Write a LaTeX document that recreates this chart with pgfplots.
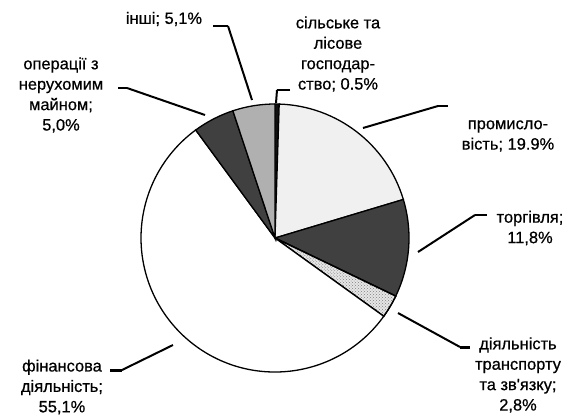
\documentclass[border=0pt]{standalone}
\usepackage{pgfplots}
\pgfplotsset{compat=1.18}
\usepackage{fontspec}
\setmainfont{Liberation Sans}
\newfontfamily\labfont[FakeBold=0.6]{Liberation Sans}
\usetikzlibrary{patterns}

\definecolor{agri}{HTML}{111111}
\definecolor{ind}{HTML}{F0F0F0}
\definecolor{trade}{HTML}{404040}
\definecolor{transp}{HTML}{E6E6E6}
\definecolor{fin}{HTML}{FFFFFF}
\definecolor{realty}{HTML}{404040}
\definecolor{other}{HTML}{B0B0B0}

\begin{document}
\begin{tikzpicture}
\begin{axis}[
    hide axis,
    scale only axis,
    width=570bp, height=417bp,
    xmin=0, xmax=570,
    ymin=0, ymax=417,
    y dir=reverse,
    clip=false
]
% keep the whole canvas in the bounding box
\path (axis cs:0,0) rectangle (axis cs:570,417);

% shares, %, clockwise from 12 o'clock
\pgfplotsextra{
  \def\cum{0}
  \foreach \v/\c in {0.5/agri, 19.9/ind, 11.8/trade, 2.8/transp, 55.1/fin, 5.0/realty, 5.1/other}{
    \pgfmathsetmacro\sa{90-360/100.2*\cum}
    \pgfmathsetmacro\ea{\sa-360/100.2*\v}
    \filldraw[fill=\c, draw=black, line width=1.3pt]
      (axis cs:275,238) -- ++(\sa:134bp) arc[start angle=\sa, end angle=\ea, radius=134bp] -- cycle;
    \ifdim\v pt=2.8pt
      \fill[pattern=crosshatch dots, pattern color=gray]
        (axis cs:275,238) -- ++(\sa:134bp) arc[start angle=\sa, end angle=\ea, radius=134bp] -- cycle;
      \draw[black, line width=1.3pt]
        (axis cs:275,238) -- ++(\sa:134bp) arc[start angle=\sa, end angle=\ea, radius=134bp] -- cycle;
    \fi
    \pgfmathsetmacro\newcum{\cum+\v}
    \global\let\cum\newcum
  }
}

% leader lines: thick stub, thinner slanted part
\pgfplotsextra{
  \foreach \ax/\ay/\bx/\by/\cx/\cy in {213/26/228/26/252/100, 118/88/127/88/205/115,
      290/90/277/90/276/103, 448/106/438/106/363/128, 487/215/475/215/418/252,
      470/347/460/347/398/313, 110/370/122/370/173/345}{
    \draw[line width=3pt] (axis cs:\ax,\ay) -- (axis cs:\bx,\by);
    \draw[line width=2pt] (axis cs:\bx,\by) -- (axis cs:\cx,\cy);
  }
}

% labels
\tikzset{lab/.style={align=center, inner sep=0pt, font=\labfont\fontsize{16.5}{20.5}\selectfont}}
\node[lab] at (axis cs:164,19) {інші; 5,1\%};
\node[lab] at (axis cs:61,95) {операції з\\нерухомим\\майном;\\5,0\%};
\node[lab] at (axis cs:338,54) {сільське та\\лісове\\господар-\\ство; 0.5\%};
\node[lab] at (axis cs:508,136) {промисло-\\вість; 19.9\%};
\node[lab] at (axis cs:530,228) {торгівля;\\11,8\%};
\node[lab] at (axis cs:518,375) {діяльність\\транспорту\\та зв'язку;\\2,8\%};
\node[lab] at (axis cs:62,387) {фінансова\\діяльність;\\55,1\%};
\end{axis}
\end{tikzpicture}
\end{document}
